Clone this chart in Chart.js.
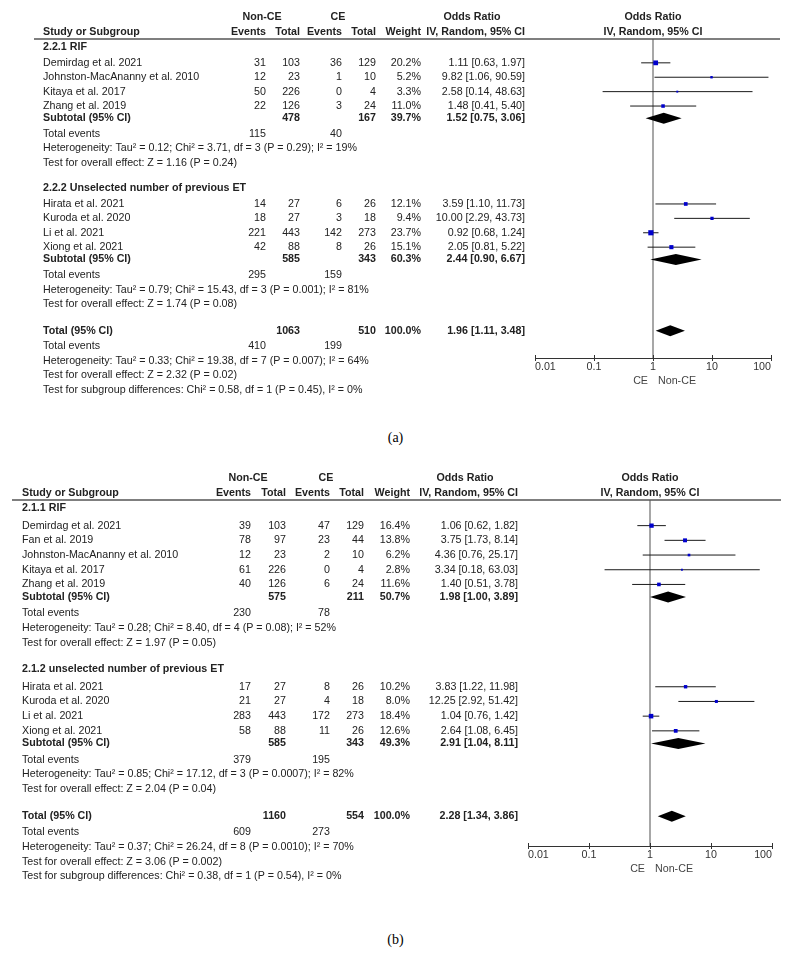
<!DOCTYPE html>
<html>
<head>
<meta charset="utf-8">
<script src="https://cdn.jsdelivr.net/npm/chart.js@4.4.1/dist/chart.umd.min.js"></script>
<style>
  html, body { margin: 0; padding: 0; background: #fff; }
  body { width: 791px; height: 955px; position: relative; overflow: hidden; }
  canvas { position: absolute; left: 0; }
  #forest-a { top: 0; }
  #forest-b { top: 455px; }
  .caption { position: absolute; left: 0; width: 791px; text-align: center;
    font: 14px "Liberation Serif", "Times New Roman", serif; color: #000; line-height: 16px; }
</style>
</head>
<body>
<canvas id="forest-a" width="791" height="420"></canvas>
<div class="caption" style="top:430px">(a)</div>
<canvas id="forest-b" width="791" height="440"></canvas>
<div class="caption" style="top:932px">(b)</div>
<script>
const xTicks = [0.01, 0.1, 1, 10, 100];

// panel (a)
const aGroupNames = ["2.2.1 RIF", "2.2.2 Unselected number of previous ET"];
const aStudies = ["Demirdag et al. 2021", "Johnston-MacAnanny et al. 2010", "Kitaya et al. 2017", "Zhang et al. 2019",
  "Hirata et al. 2021", "Kuroda et al. 2020", "Li et al. 2021", "Xiong et al. 2021"];
const aGroup = [0, 0, 0, 0, 1, 1, 1, 1];
const aNonEvents = [31, 12, 50, 22, 14, 18, 221, 42];
const aNonTotal = [103, 23, 226, 126, 27, 27, 443, 88];
const aCeEvents = [36, 1, 0, 3, 6, 3, 142, 8];
const aCeTotal = [129, 10, 4, 24, 26, 18, 273, 26];
const aWeight = [20.2, 5.2, 3.3, 11.0, 12.1, 9.4, 23.7, 15.1];
const aOR = [1.11, 9.82, 2.58, 1.48, 3.59, 10.00, 0.92, 2.05];
const aLow = [0.63, 1.06, 0.14, 0.41, 1.10, 2.29, 0.68, 0.81];
const aHigh = [1.97, 90.59, 48.63, 5.40, 11.73, 43.73, 1.24, 5.22];
const aSubNonEvents = [115, 295];
const aSubNonTotal = [478, 585];
const aSubCeEvents = [40, 159];
const aSubCeTotal = [167, 343];
const aSubWeight = [39.7, 60.3];
const aSubOR = [1.52, 2.44];
const aSubLow = [0.75, 0.90];
const aSubHigh = [3.06, 6.67];
const aSubHet = ["Heterogeneity: Tau² = 0.12; Chi² = 3.71, df = 3 (P = 0.29); I² = 19%",
  "Heterogeneity: Tau² = 0.79; Chi² = 15.43, df = 3 (P = 0.001); I² = 81%"];
const aSubEffect = ["Test for overall effect: Z = 1.16 (P = 0.24)", "Test for overall effect: Z = 1.74 (P = 0.08)"];
const aTotalCounts = [1063, 510];
const aTotalEvents = [410, 199];
const aTotalOR = [1.96, 1.11, 3.48];
const aTotalNotes = ["Heterogeneity: Tau² = 0.33; Chi² = 19.38, df = 7 (P = 0.007); I² = 64%",
  "Test for overall effect: Z = 2.32 (P = 0.02)",
  "Test for subgroup differences: Chi² = 0.58, df = 1 (P = 0.45), I² = 0%"];

// panel (b)
const bGroupNames = ["2.1.1 RIF", "2.1.2 unselected number of previous ET"];
const bStudies = ["Demirdag et al. 2021", "Fan et al. 2019", "Johnston-MacAnanny et al. 2010", "Kitaya et al. 2017",
  "Zhang et al. 2019", "Hirata et al. 2021", "Kuroda et al. 2020", "Li et al. 2021", "Xiong et al. 2021"];
const bGroup = [0, 0, 0, 0, 0, 1, 1, 1, 1];
const bNonEvents = [39, 78, 12, 61, 40, 17, 21, 283, 58];
const bNonTotal = [103, 97, 23, 226, 126, 27, 27, 443, 88];
const bCeEvents = [47, 23, 2, 0, 6, 8, 4, 172, 11];
const bCeTotal = [129, 44, 10, 4, 24, 26, 18, 273, 26];
const bWeight = [16.4, 13.8, 6.2, 2.8, 11.6, 10.2, 8.0, 18.4, 12.6];
const bOR = [1.06, 3.75, 4.36, 3.34, 1.40, 3.83, 12.25, 1.04, 2.64];
const bLow = [0.62, 1.73, 0.76, 0.18, 0.51, 1.22, 2.92, 0.76, 1.08];
const bHigh = [1.82, 8.14, 25.17, 63.03, 3.78, 11.98, 51.42, 1.42, 6.45];
const bSubNonEvents = [230, 379];
const bSubNonTotal = [575, 585];
const bSubCeEvents = [78, 195];
const bSubCeTotal = [211, 343];
const bSubWeight = [50.7, 49.3];
const bSubOR = [1.98, 2.91];
const bSubLow = [1.00, 1.04];
const bSubHigh = [3.89, 8.11];
const bSubHet = ["Heterogeneity: Tau² = 0.28; Chi² = 8.40, df = 4 (P = 0.08); I² = 52%",
  "Heterogeneity: Tau² = 0.85; Chi² = 17.12, df = 3 (P = 0.0007); I² = 82%"];
const bSubEffect = ["Test for overall effect: Z = 1.97 (P = 0.05)", "Test for overall effect: Z = 2.04 (P = 0.04)"];
const bTotalCounts = [1160, 554];
const bTotalEvents = [609, 273];
const bTotalOR = [2.28, 1.34, 3.86];
const bTotalNotes = ["Heterogeneity: Tau² = 0.37; Chi² = 26.24, df = 8 (P = 0.0010); I² = 70%",
  "Test for overall effect: Z = 3.06 (P = 0.002)",
  "Test for subgroup differences: Chi² = 0.38, df = 1 (P = 0.54), I² = 0%"];

const FONT = '"Liberation Sans", Arial, sans-serif';
const FONT_SIZE = 10.7;
const TEXT = "#222";
const BLUE = "#0000cc";
const AXIS_H = 30;

function orText(v, lo, hi) {
  return `${v.toFixed(2)} [${lo.toFixed(2)}, ${hi.toFixed(2)}]`;
}

function buildRows(d, g) {
  const rows = [];
  let y = 0;
  d.groupNames.forEach((name, gi) => {
    if (gi > 0) y += g.sectionGap;
    rows.push({ pos: y, kind: "group", gi });
    y += g.headerGap;
    d.studies.forEach((s, i) => {
      if (d.group[i] !== gi) return;
      rows.push({ pos: y, kind: "study", i });
      y += 1;
    });
    y += g.subGap - 1;
    rows.push({ pos: y, kind: "subtotal", gi });
    y += g.eventsGap;
    rows.push({ pos: y, kind: "subEvents", gi });
    y += 1;
    rows.push({ pos: y, kind: "subHet", gi });
    y += 1;
    rows.push({ pos: y, kind: "subEffect", gi });
  });
  y += g.totalGap;
  rows.push({ pos: y, kind: "total" });
  y += g.eventsGap;
  rows.push({ pos: y, kind: "totalEvents" });
  d.totalNotes.forEach((t, k) => {
    y += 1;
    rows.push({ pos: y, kind: "note", k });
  });
  return rows;
}

function forest(id, d, g) {
  const rows = buildRows(d, g);
  const studyPos = [];
  rows.filter((r) => r.kind === "study").forEach((r) => { studyPos[r.i] = r.pos; });

  const canvas = document.getElementById(id);
  const areaH = canvas.height - g.pad.top - g.pad.bottom - AXIS_H;
  const yMin = -g.firstOffset / g.unit;
  const yMax = yMin + areaH / g.unit;

  const ci = [];
  d.or.forEach((v, i) => {
    ci.push({ x: d.low[i], y: studyPos[i] }, { x: d.high[i], y: studyPos[i] }, { x: d.high[i], y: null });
  });

  const c = g.cols;
  const cellsFor = (r) => {
    const n = (t, x, align = "right", bold = false) => ({ t: String(t), x, align, bold });
    switch (r.kind) {
      case "group": return [n(d.groupNames[r.gi], c.label, "left", true)];
      case "study": {
        const i = r.i;
        return [n(d.studies[i], c.label, "left"), n(d.nonEvents[i], c.nonEv), n(d.nonTotal[i], c.nonTot),
          n(d.ceEvents[i], c.ceEv), n(d.ceTotal[i], c.ceTot), n(d.weight[i].toFixed(1) + "%", c.weight),
          n(orText(d.or[i], d.low[i], d.high[i]), c.or)];
      }
      case "subtotal": {
        const k = r.gi;
        return [n("Subtotal (95% CI)", c.label, "left", true), n(d.subNonTotal[k], c.nonTot, "right", true),
          n(d.subCeTotal[k], c.ceTot, "right", true), n(d.subWeight[k].toFixed(1) + "%", c.weight, "right", true),
          n(orText(d.subOR[k], d.subLow[k], d.subHigh[k]), c.or, "right", true)];
      }
      case "subEvents":
        return [n("Total events", c.label, "left"), n(d.subNonEvents[r.gi], c.nonEv), n(d.subCeEvents[r.gi], c.ceEv)];
      case "subHet": return [n(d.subHet[r.gi], c.label, "left")];
      case "subEffect": return [n(d.subEffect[r.gi], c.label, "left")];
      case "total":
        return [n("Total (95% CI)", c.label, "left", true), n(d.totalCounts[0], c.nonTot, "right", true),
          n(d.totalCounts[1], c.ceTot, "right", true), n("100.0%", c.weight, "right", true),
          n(orText(d.totalOR[0], d.totalOR[1], d.totalOR[2]), c.or, "right", true)];
      case "totalEvents":
        return [n("Total events", c.label, "left"), n(d.totalEvents[0], c.nonEv), n(d.totalEvents[1], c.ceEv)];
      case "note": return [n(d.totalNotes[r.k], c.label, "left")];
    }
    return [];
  };

  const text = (ctx, t, x, y, align, bold, color = TEXT) => {
    ctx.font = `${bold ? "bold " : ""}${FONT_SIZE}px ${FONT}`;
    ctx.fillStyle = color;
    ctx.textAlign = align;
    ctx.textBaseline = "middle";
    ctx.fillText(t, x, y);
  };

  const forestPlugin = {
    id: "forestTable",
    beforeDatasetsDraw(chart) {
      const { ctx, chartArea, scales } = chart;
      const x1 = scales.x.getPixelForValue(1);
      ctx.save();
      ctx.strokeStyle = "#8a8a8a";
      ctx.lineWidth = 1.5;
      ctx.beginPath();
      ctx.moveTo(x1, chartArea.top);
      ctx.lineTo(x1, chartArea.bottom);
      ctx.stroke();
      ctx.restore();
    },
    afterDatasetsDraw(chart) {
      const { ctx, scales } = chart;
      const diamonds = d.subOR.map((v, k) => [v, d.subLow[k], d.subHigh[k],
        rows.find((r) => r.kind === "subtotal" && r.gi === k).pos]);
      diamonds.push([d.totalOR[0], d.totalOR[1], d.totalOR[2], rows.find((r) => r.kind === "total").pos]);
      ctx.save();
      ctx.fillStyle = "#000";
      diamonds.forEach(([v, lo, hi, pos]) => {
        const y = scales.y.getPixelForValue(pos);
        ctx.beginPath();
        ctx.moveTo(scales.x.getPixelForValue(lo), y);
        ctx.lineTo(scales.x.getPixelForValue(v), y - 5.5);
        ctx.lineTo(scales.x.getPixelForValue(hi), y);
        ctx.lineTo(scales.x.getPixelForValue(v), y + 5.5);
        ctx.closePath();
        ctx.fill();
      });
      ctx.restore();
    },
    afterDraw(chart) {
      const { ctx, chartArea, scales } = chart;
      ctx.save();
      // header
      const h1 = chartArea.top - 21.5, h2 = chartArea.top - 7;
      text(ctx, "Non-CE", c.nonTot - 38, h1, "center", true);
      text(ctx, "CE", c.ceTot - 38, h1, "center", true);
      text(ctx, "Odds Ratio", c.or - 53, h1, "center", true);
      const mid = (chartArea.left + chartArea.right) / 2;
      text(ctx, "Odds Ratio", mid, h1, "center", true);
      text(ctx, "Study or Subgroup", c.label, h2, "left", true);
      text(ctx, "Events", c.nonEv, h2, "right", true);
      text(ctx, "Total", c.nonTot, h2, "right", true);
      text(ctx, "Events", c.ceEv, h2, "right", true);
      text(ctx, "Total", c.ceTot, h2, "right", true);
      text(ctx, "Weight", c.weight, h2, "right", true);
      text(ctx, "IV, Random, 95% CI", c.or, h2, "right", true);
      text(ctx, "IV, Random, 95% CI", mid, h2, "center", true);
      ctx.strokeStyle = "#555";
      ctx.lineWidth = 1.5;
      ctx.beginPath();
      ctx.moveTo(g.lineLeft, chartArea.top);
      ctx.lineTo(chartArea.right + 9, chartArea.top);
      ctx.stroke();

      rows.forEach((r) => {
        const y = scales.y.getPixelForValue(r.pos);
        cellsFor(r).forEach((cell) => text(ctx, cell.t, cell.x, y, cell.align, cell.bold));
      });

      // upper half of axis ticks and axis labels
      ctx.strokeStyle = "#333";
      ctx.lineWidth = 1;
      xTicks.forEach((v) => {
        const x = Math.round(scales.x.getPixelForValue(v)) + 0.5;
        ctx.beginPath();
        ctx.moveTo(x, chartArea.bottom - 3);
        ctx.lineTo(x, chartArea.bottom);
        ctx.stroke();
      });
      const x1 = scales.x.getPixelForValue(1);
      text(ctx, "CE", x1 - 5, chartArea.bottom + 23, "right", false, "#444");
      text(ctx, "Non-CE", x1 + 5, chartArea.bottom + 23, "left", false, "#444");
      ctx.restore();
    },
  };

  return new Chart(canvas, {
    type: "scatter",
    data: {
      datasets: [
        {
          label: "Study",
          data: d.or.map((v, i) => ({ x: v, y: studyPos[i] })),
          pointStyle: "rect",
          pointRadius: (cx) => Math.sqrt(d.weight[cx.dataIndex]) * 0.75,
          pointHoverRadius: (cx) => Math.sqrt(d.weight[cx.dataIndex]) * 0.75,
          backgroundColor: BLUE,
          borderWidth: 0,
          order: 1,
        },
        {
          label: "95% CI",
          data: ci,
          showLine: true,
          spanGaps: false,
          borderColor: "#1a1a1a",
          borderWidth: 1,
          pointRadius: 0,
          pointHoverRadius: 0,
          order: 2,
        },
      ],
    },
    options: {
      responsive: false,
      animation: false,
      devicePixelRatio: 1,
      layout: { padding: g.pad },
      plugins: { legend: { display: false }, tooltip: { enabled: false } },
      scales: {
        x: {
          type: "logarithmic",
          min: 0.01,
          max: 100,
          afterBuildTicks: (s) => { s.ticks = xTicks.map((v) => ({ value: v })); },
          afterFit: (s) => { s.height = AXIS_H; },
          grid: { drawOnChartArea: false, tickLength: 3, color: "#333" },
          border: { color: "#333", width: 1 },
          ticks: {
            align: "inner",
            padding: 0,
            maxRotation: 0,
            autoSkip: false,
            color: "#333",
            font: { family: FONT, size: FONT_SIZE },
            callback: (v) => String(v),
          },
        },
        y: { type: "linear", display: false, reverse: true, min: yMin, max: yMax },
      },
    },
    plugins: [forestPlugin],
  });
}

forest("forest-a", {
  groupNames: aGroupNames, studies: aStudies, group: aGroup,
  nonEvents: aNonEvents, nonTotal: aNonTotal, ceEvents: aCeEvents, ceTotal: aCeTotal,
  weight: aWeight, or: aOR, low: aLow, high: aHigh,
  subNonEvents: aSubNonEvents, subNonTotal: aSubNonTotal, subCeEvents: aSubCeEvents, subCeTotal: aSubCeTotal,
  subWeight: aSubWeight, subOR: aSubOR, subLow: aSubLow, subHigh: aSubHigh,
  subHet: aSubHet, subEffect: aSubEffect,
  totalCounts: aTotalCounts, totalEvents: aTotalEvents, totalOR: aTotalOR, totalNotes: aTotalNotes,
}, {
  cols: { label: 43, nonEv: 266, nonTot: 300, ceEv: 342, ceTot: 376, weight: 421, or: 525 },
  lineLeft: 34,
  pad: { left: 535, right: 20, top: 39, bottom: 32 },
  unit: 14.4, firstOffset: 8, headerGap: 1.1, sectionGap: 1.75, subGap: 0.85, eventsGap: 1.1, totalGap: 1.85,
});

forest("forest-b", {
  groupNames: bGroupNames, studies: bStudies, group: bGroup,
  nonEvents: bNonEvents, nonTotal: bNonTotal, ceEvents: bCeEvents, ceTotal: bCeTotal,
  weight: bWeight, or: bOR, low: bLow, high: bHigh,
  subNonEvents: bSubNonEvents, subNonTotal: bSubNonTotal, subCeEvents: bSubCeEvents, subCeTotal: bSubCeTotal,
  subWeight: bSubWeight, subOR: bSubOR, subLow: bSubLow, subHigh: bSubHigh,
  subHet: bSubHet, subEffect: bSubEffect,
  totalCounts: bTotalCounts, totalEvents: bTotalEvents, totalOR: bTotalOR, totalNotes: bTotalNotes,
}, {
  cols: { label: 22, nonEv: 251, nonTot: 286, ceEv: 330, ceTot: 364, weight: 410, or: 518 },
  lineLeft: 12,
  pad: { left: 528, right: 19, top: 45, bottom: 19 },
  unit: 14.7, firstOffset: 8, headerGap: 1.2, sectionGap: 1.8, subGap: 0.86, eventsGap: 1.1, totalGap: 1.85,
});
</script>
</body>
</html>
